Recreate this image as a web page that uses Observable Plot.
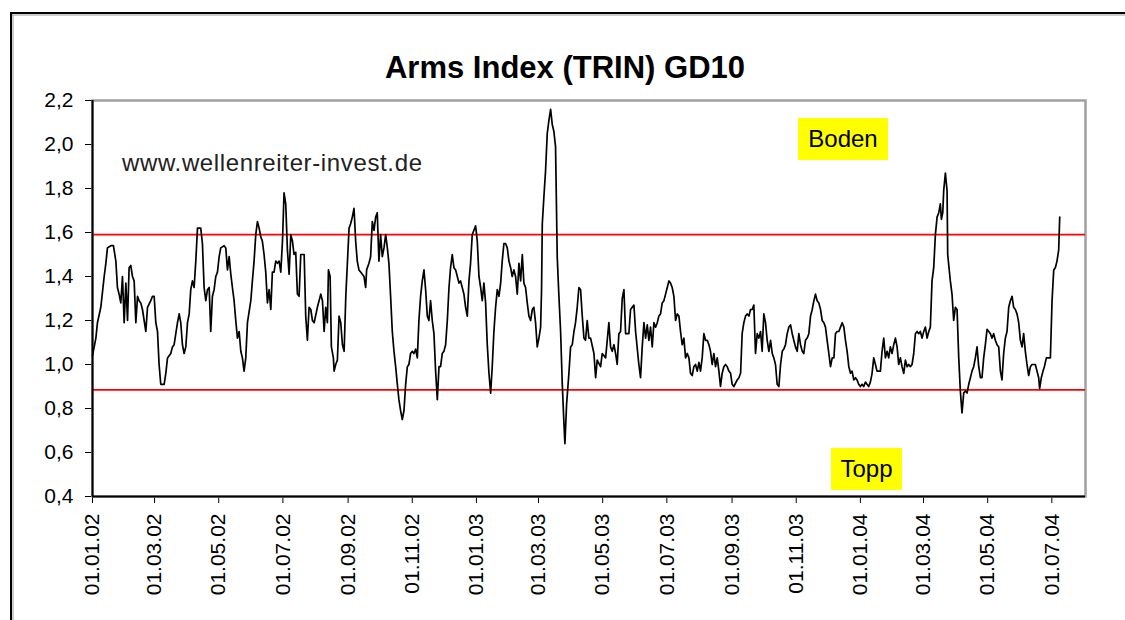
<!DOCTYPE html>
<html>
<head>
<meta charset="utf-8">
<script src="https://cdn.jsdelivr.net/npm/d3@7"></script>
<script src="https://cdn.jsdelivr.net/npm/@observablehq/plot@0.6"></script>
<style>
  html, body { margin: 0; padding: 0; background: #fff; }
  #wrap { position: relative; width: 1125px; height: 620px; overflow: hidden; }
  #wrap svg { position: absolute; left: 0; top: 0; }
</style>
</head>
<body>
<div id="wrap"></div>
<script>
// ---------- data ----------
const startDate = "2002-01-01";         // day 0
const endDate = "2004-08-02";           // right edge of the axis
const titleText = "Arms Index (TRIN) GD10";
const watermarkText = "www.wellenreiter-invest.de";
const upperLabel = "Boden";
const lowerLabel = "Topp";
const bandLevels = [1.59, 0.885];
const yTicks = [0.4, 0.6, 0.8, 1.0, 1.2, 1.4, 1.6, 1.8, 2.0, 2.2];
const xTickDates = ["2002-01-01","2002-03-01","2002-05-01","2002-07-01","2002-09-01","2002-11-01",
  "2003-01-01","2003-03-01","2003-05-01","2003-07-01","2003-09-01","2003-11-01",
  "2004-01-01","2004-03-01","2004-05-01","2004-07-01"];

// days since startDate, and TRIN (10-day average) values
const daysA = [0,3.2,4.7,7.9,11.1,12.7,14.2,17.4,19.9,22.2,
  23.7,25.3,26.9,28.5,30.1,31.7,33.3,34.8,36.4,38.0,
  39.6,41.2,42.8,44.3,45.9,47.5,49.1,50.7,52.3,55.4,
  57.0,58.6,60.2,61.8,63.3,64.9,68.1,69.7,71.3,74.4,
  76.0,77.6,79.2,80.8,82.4,83.9,85.5,87.1,88.7,90.3,
  91.9,93.4,95.0,96.6,98.2,99.8,102.9,104.5,106.1,107.7,
  109.3,110.9,112.4,114.0,115.6,117.2,118.8,120.4,121.9,125.1,
  126.7,128.3,129.9,131.5,133.0,134.6,136.2,137.8,139.4,141.0,
  142.5,144.1,145.7,147.3,150.5,152.0,153.6,155.2,156.8,158.4,
  160.0,161.5,163.1,164.7,166.3,167.9,169.5,171.0,172.6,174.2,
  175.8,177.4,179.0,180.6,182.1,183.7,185.3,186.9,188.5,190.1,
  191.6,193.2,194.8,196.4,198.0,201.2,202.7,204.3,205.9,207.5,
  209.1,210.7,213.8,217.0,218.6,220.2,221.7,223.3,224.3,225.9,
  227.1,229.0,229.7,231.2,232.8,234.4,236.0,237.6,239.2,240.8,
  243.9];
const trinA = [1.04,1.12,1.19,1.26,1.40,1.46,1.53,1.54,1.54,1.47,
  1.35,1.32,1.28,1.40,1.19,1.37,1.20,1.44,1.45,1.40,
  1.38,1.19,1.31,1.29,1.28,1.25,1.20,1.15,1.26,1.29,
  1.31,1.31,1.19,1.15,1.00,0.91,0.91,0.96,1.03,1.05,
  1.08,1.09,1.14,1.19,1.23,1.19,1.09,1.05,1.08,1.19,
  1.23,1.34,1.38,1.35,1.47,1.62,1.62,1.55,1.35,1.29,
  1.34,1.35,1.15,1.31,1.34,1.40,1.42,1.49,1.53,1.54,
  1.53,1.43,1.49,1.41,1.35,1.29,1.20,1.12,1.15,1.06,
  1.03,0.97,1.03,1.19,1.29,1.38,1.47,1.59,1.65,1.62,
  1.58,1.56,1.50,1.42,1.28,1.34,1.25,1.42,1.42,1.47,
  1.46,1.47,1.42,1.56,1.78,1.73,1.52,1.41,1.59,1.56,
  1.50,1.51,1.32,1.31,1.50,1.50,1.22,1.11,1.26,1.25,
  1.20,1.19,1.26,1.32,1.29,1.15,1.26,1.19,1.43,1.40,
  1.08,1.03,0.97,1.00,1.02,1.22,1.19,1.09,1.06,1.31,
  1.62];

const daysB = [245.4,247.0,248.6,250.2,251.7,253.3,254.9,256.5,258.1,259.7,
  260.6,262.8,264.4,266.0,267.6,269.2,270.7,272.3,273.9,275.5,
  277.1,278.7,280.3,281.8,283.4,285.0,286.6,288.2,289.8,291.3,
  292.9,294.5,296.1,297.7,299.3,300.8,302.4,304.0,305.6,307.2,
  308.8,310.3,311.9,313.5,315.1,316.7,318.3,319.8,321.4,323.0,
  324.6,326.2,327.8,329.4,330.9,332.5,334.1,335.7,337.3,338.9,
  340.4,342.0,343.6,345.2,346.8,348.4,349.9,351.5,353.1,354.7,
  356.3,357.9,359.4,361.0,362.6,364.2,365.8,367.4,369.0,370.5,
  372.1,373.7,375.3,376.9,378.5,380.0,381.6,383.2,384.8,386.4,
  388.0,389.5,391.1,392.7,394.3,395.9,397.5,399.0,400.6,402.2,
  403.8,405.4,407.0,408.6,410.1,411.7,413.3,414.9,416.5,418.1,
  419.6,421.2,422.8,424.4,426.0,426.9,427.6,429.1,430.7,432.3,
  433.9,435.5,437.1,438.6,440.2,441.8,443.4,445.0,446.6,448.2,
  449.1,450.7,452.9,454.5,456.1,457.7,459.2,460.8,462.4,464.0,
  465.6,467.2,468.7,470.3,471.9,473.5,476.7,478.3,479.8,483.0];
const trinB = [1.64,1.67,1.71,1.56,1.47,1.43,1.42,1.41,1.40,1.35,
  1.43,1.46,1.49,1.65,1.61,1.67,1.69,1.47,1.59,1.49,
  1.53,1.59,1.53,1.46,1.31,1.15,1.06,0.99,0.91,0.84,
  0.79,0.75,0.79,0.91,0.99,1.00,1.05,1.06,1.05,1.07,
  1.03,1.20,1.31,1.38,1.43,1.34,1.22,1.20,1.29,1.20,
  1.14,0.97,0.84,0.99,0.99,1.05,1.06,1.09,1.20,1.35,
  1.44,1.50,1.44,1.43,1.40,1.37,1.38,1.35,1.32,1.26,
  1.22,1.38,1.46,1.59,1.61,1.63,1.56,1.40,1.35,1.29,
  1.37,1.28,1.09,0.96,0.87,0.99,1.15,1.26,1.34,1.31,
  1.37,1.47,1.55,1.55,1.53,1.47,1.44,1.40,1.43,1.40,
  1.32,1.46,1.38,1.50,1.37,1.35,1.28,1.22,1.20,1.25,
  1.26,1.19,1.08,1.12,1.17,1.34,1.64,1.76,1.88,2.05,
  2.11,2.16,2.09,2.06,1.99,1.49,1.31,1.15,0.91,0.73,
  0.64,0.82,0.96,1.08,1.09,1.15,1.19,1.26,1.35,1.34,
  1.22,1.12,1.11,1.20,1.12,1.12,1.05,0.94,1.02,0.99];

const daysC = [484.6,487.8,490.9,492.5,494.1,495.7,497.3,498.8,500.4,502.0,
  503.6,505.2,506.8,509.9,511.5,513.1,514.7,516.3,519.4,521.0,
  522.6,524.2,525.8,527.4,528.9,530.5,532.1,533.7,535.3,536.9,
  538.4,540.0,541.6,543.2,544.8,546.4,548.0,549.5,551.1,552.7,
  554.3,555.9,557.5,559.0,560.6,562.2,563.8,565.4,567.0,568.5,
  570.1,571.7,573.3,574.9,576.5,578.0,579.6,581.2,582.8,584.4,
  586.0,587.5,589.1,590.7,592.3,593.9,595.5,597.0,598.6,600.2,
  601.8,603.4,605.0,606.6,608.1,609.7,612.9,614.5,616.1,617.6,
  619.2,620.8,622.4,624.0,625.6,627.1,628.7,630.3,631.9,633.5,
  635.1,636.6,638.2,639.8,641.4,643.0,644.6,646.2,647.7,649.3,
  650.9,652.5,654.1,655.7,657.2,658.8,660.4,662.0,663.6,665.2,
  666.7,668.3,669.9,671.5,673.1,674.7,676.2,677.8,679.4,681.0,
  682.6,684.2,685.8,687.3,688.9,690.5,692.1,693.7,695.3,696.8,
  698.4,700.0,701.6,703.2,704.8,706.3,707.9,709.5,711.1,712.7,
  714.3,715.8,717.4,719.0,720.6];
const trinC = [1.05,1.03,1.19,1.08,1.06,1.09,1.05,1.00,1.14,1.15,
  1.30,1.34,1.14,1.14,1.25,1.26,1.27,1.15,1.00,0.94,
  1.08,1.19,1.12,1.18,1.11,1.17,1.08,1.19,1.17,1.19,
  1.22,1.23,1.28,1.29,1.32,1.35,1.38,1.37,1.35,1.31,
  1.20,1.23,1.22,1.15,1.09,1.12,1.03,1.05,1.03,0.96,
  0.95,0.99,1.00,0.97,1.01,0.97,1.03,1.14,1.11,1.11,
  1.09,1.06,1.00,1.05,0.99,1.03,0.97,0.90,0.96,0.99,
  1.00,0.99,0.97,0.96,0.91,0.90,0.93,0.94,0.96,1.14,
  1.19,1.22,1.23,1.22,1.25,1.25,1.27,1.05,1.14,1.12,
  1.15,1.06,1.23,1.19,1.11,1.06,1.11,1.05,1.03,1.00,
  0.91,0.90,1.00,1.06,1.07,1.09,1.14,1.17,1.18,1.14,
  1.11,1.08,1.06,1.14,1.09,1.06,1.05,1.11,1.12,1.14,
  1.22,1.25,1.29,1.32,1.29,1.28,1.25,1.20,1.19,1.17,
  1.11,1.05,0.99,1.03,1.03,1.14,1.15,1.15,1.17,1.19,
  1.17,1.11,1.06,0.99,0.96];

const daysD = [722.1,723.7,725.3,726.8,728.4,730.0,731.6,733.2,734.8,736.3,
  737.9,739.5,741.1,742.7,744.3,745.8,747.4,749.0,750.6,752.2,
  753.8,755.4,756.9,758.5,760.1,761.7,763.3,764.9,766.4,768.0,
  769.6,771.2,772.8,774.4,775.9,777.5,779.1,780.7,782.3,783.9,
  785.4,787.0,788.6,790.2,791.8,793.4,795.0,796.5,798.1,799.7,
  801.3,802.9,804.5,806.0,807.0,808.3,809.2,810.8,812.4,813.0,
  815.5,817.1,818.7,820.3,821.9,823.5,825.0,826.6,828.2,829.8,
  831.4,833.0,834.6,836.1,837.7,839.3,840.9,842.5,844.1,845.6,
  847.2,848.8,850.4,852.0,853.6,855.1,856.7,858.3,859.9,861.5,
  863.1,864.6,866.2,867.8,869.4,871.0,872.6,874.2,875.7,877.3,
  878.9,880.5,882.1,883.7,885.2,886.8,888.4,890.0,891.6,893.2,
  894.7,896.3,897.9,899.5,900.4,902.0,903.6,904.9,906.8,909.0,
  910.6,912.2,913.8,915.3,916.9,918.5,919.5];
const trinD = [0.97,0.93,0.94,0.93,0.91,0.90,0.91,0.90,0.92,0.91,
  0.90,0.92,0.96,1.03,1.00,0.97,0.97,0.97,1.06,1.12,
  1.03,1.06,1.03,1.08,1.05,1.09,1.12,1.08,1.00,1.03,
  0.99,0.96,1.02,0.99,1.00,0.99,1.00,1.05,1.14,1.15,
  1.14,1.15,1.12,1.15,1.17,1.12,1.15,1.17,1.38,1.44,
  1.59,1.67,1.69,1.73,1.66,1.69,1.79,1.87,1.79,1.50,
  1.38,1.32,1.20,1.26,1.25,1.03,0.88,0.78,0.87,0.88,
  0.87,0.91,0.94,0.97,0.99,1.03,1.08,0.99,0.94,0.94,
  1.03,1.09,1.16,1.15,1.14,1.12,1.14,1.11,1.09,1.08,
  0.97,0.93,1.05,1.12,1.15,1.26,1.29,1.31,1.26,1.25,
  1.23,1.19,1.11,1.08,1.14,1.06,1.00,0.95,0.99,1.00,
  1.00,1.00,0.97,0.94,0.89,0.94,0.97,0.99,1.03,1.03,
  1.03,1.29,1.43,1.44,1.47,1.52,1.67];

// ---------- build ----------
const t0 = new Date(startDate + "T00:00:00Z");
const t1 = new Date(endDate + "T00:00:00Z");
const toDate = d => new Date(t0.getTime() + d * 864e5);
const series = [];
[[daysA, trinA], [daysB, trinB], [daysC, trinC], [daysD, trinD]].forEach(([ds, vs]) => {
  const n = Math.min(ds.length, vs.length);
  if (ds.length !== vs.length) console.warn("length mismatch", ds.length, vs.length);
  for (let i = 0; i < n; i++) series.push({date: toDate(ds[i]), value: vs[i]});
});
const xTicks = xTickDates.map(s => new Date(s + "T00:00:00Z"));
const FONT = "'Liberation Sans', Arial, Helvetica, sans-serif";

const W = 1125, H = 620, ML = 92, MR = 40, MT = 100, MB = 124;

const chart = Plot.plot({
  width: W, height: H,
  marginLeft: ML, marginRight: MR, marginTop: MT, marginBottom: MB,
  style: {fontFamily: FONT, fontSize: "21px", color: "#000", background: "transparent", overflow: "visible"},
  x: {type: "utc", domain: [t0, t1], ticks: xTicks, tickFormat: d3.utcFormat("%d.%m.%y"),
      tickRotate: -90, tickSize: 7, tickPadding: 10, label: null},
  y: {domain: [0.4, 2.2], ticks: yTicks, tickFormat: d => d.toFixed(1).replace(".", ","),
      tickSize: 7, tickPadding: 12, label: null},
  marks: [
    Plot.frame({stroke: "#a0a0a0", strokeWidth: 2.5}),
    Plot.ruleY(bandLevels, {stroke: "#ff0000", strokeWidth: 1.8}),
    Plot.line(series, {x: "date", y: "value", stroke: "#000", strokeWidth: 1.7}),
    Plot.ruleX([t0], {stroke: "#000", strokeWidth: 2}),
    Plot.ruleY([0.4], {stroke: "#000", strokeWidth: 2})
  ]
});

const wrap = document.getElementById("wrap");
wrap.appendChild(chart);

// ---------- overlay: frame, title, annotations ----------
const ov = d3.select(wrap).append("svg")
  .attr("width", W).attr("height", H)
  .style("pointer-events", "none")
  .style("font-family", FONT);

// outer chart border (top and left)
ov.append("line").attr("x1", 10).attr("x2", W).attr("y1", 13).attr("y2", 13).attr("stroke", "#000").attr("stroke-width", 2);
ov.append("line").attr("x1", 12).attr("x2", W).attr("y1", 15).attr("y2", 15).attr("stroke", "#999").attr("stroke-width", 1);
ov.append("line").attr("x1", 11).attr("x2", 11).attr("y1", 12).attr("y2", H).attr("stroke", "#000").attr("stroke-width", 2);
ov.append("line").attr("x1", 13).attr("x2", 13).attr("y1", 15).attr("y2", H).attr("stroke", "#999").attr("stroke-width", 1);

ov.append("text").attr("x", 565).attr("y", 78).attr("text-anchor", "middle")
  .attr("font-size", 31).attr("font-weight", "bold").attr("fill", "#000").text(titleText);

ov.append("text").attr("x", 122).attr("y", 171).attr("font-size", 24).attr("fill", "#222")
  .attr("textLength", 300).attr("lengthAdjust", "spacing").text(watermarkText);

ov.append("rect").attr("x", 798).attr("y", 118).attr("width", 90).attr("height", 42).attr("fill", "#ffff00");
ov.append("text").attr("x", 843).attr("y", 147).attr("text-anchor", "middle").attr("font-size", 24).attr("fill", "#000").text(upperLabel);

ov.append("rect").attr("x", 831).attr("y", 448).attr("width", 71).attr("height", 42).attr("fill", "#ffff00");
ov.append("text").attr("x", 866.5).attr("y", 477).attr("text-anchor", "middle").attr("font-size", 24).attr("fill", "#000").text(lowerLabel);
</script>
</body>
</html>
